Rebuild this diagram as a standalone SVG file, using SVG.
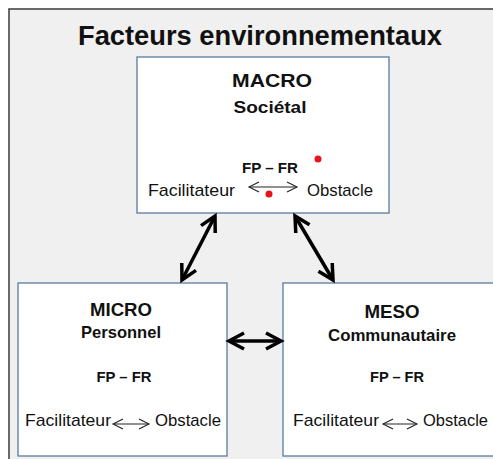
<svg xmlns="http://www.w3.org/2000/svg" width="493" height="459" viewBox="0 0 493 459">
<style>
.frame{fill:#f0f0f0;stroke:#3a3a3a;stroke-width:1.5}
.box{fill:#ffffff;stroke:#5b7aa0;stroke-width:1.3}
text{font-family:"Liberation Sans",Arial,sans-serif;fill:#111}
.t{font-weight:bold;font-size:27px}
.h{font-weight:bold;font-size:19px}
.s{font-weight:bold;font-size:17px}
.f{font-weight:bold;font-size:15px}
.n{font-size:17px}
.big{stroke:#000;stroke-width:3.5;fill:none}
.thin{stroke:#222;stroke-width:1.1;fill:none}
.dot{fill:#e8141c}
</style>
<defs>
<marker id="hb" viewBox="-20 -12 24 24" markerWidth="24" markerHeight="24" refX="0" refY="0" markerUnits="userSpaceOnUse" orient="auto-start-reverse">
<path d="M-15,-8 L0,0 L-15,8" fill="none" stroke="#000" stroke-width="3.5" stroke-linejoin="miter"/>
</marker>
<marker id="ht" viewBox="-14 -8 16 16" markerWidth="16" markerHeight="16" refX="0" refY="0" markerUnits="userSpaceOnUse" orient="auto-start-reverse">
<path d="M-10,-5 L0,0 L-10,5" fill="none" stroke="#222" stroke-width="1.1"/>
</marker>
</defs>
<rect class="frame" x="9" y="9" width="500" height="470"/>
<text class="t" x="260" y="45" text-anchor="middle" textLength="364" lengthAdjust="spacingAndGlyphs">Facteurs environnementaux</text>
<g id="macro">
<rect class="box" x="137" y="57" width="252" height="156"/>
<text class="h" x="272" y="87" text-anchor="middle" textLength="80" lengthAdjust="spacingAndGlyphs">MACRO</text>
<text class="s" x="270" y="113" text-anchor="middle" textLength="73" lengthAdjust="spacingAndGlyphs">Sociétal</text>
<text class="f" x="270" y="173" text-anchor="middle" textLength="56" lengthAdjust="spacingAndGlyphs">FP – FR</text>
<text class="n" x="148" y="196" textLength="87" lengthAdjust="spacingAndGlyphs">Facilitateur</text>
<line class="thin" x1="249" y1="187" x2="297" y2="187" marker-start="url(#ht)" marker-end="url(#ht)"/>
<text class="n" x="307" y="196" textLength="66" lengthAdjust="spacingAndGlyphs">Obstacle</text>
<circle class="dot" cx="318" cy="159" r="3.5"/>
<circle class="dot" cx="269" cy="194" r="3.5"/>
</g>
<g id="micro">
<rect class="box" x="18" y="283" width="209" height="173"/>
<text class="h" x="121" y="316" text-anchor="middle" textLength="62" lengthAdjust="spacingAndGlyphs">MICRO</text>
<text class="s" x="121" y="338" text-anchor="middle" textLength="80" lengthAdjust="spacingAndGlyphs">Personnel</text>
<text class="f" x="124" y="382" text-anchor="middle" textLength="55" lengthAdjust="spacingAndGlyphs">FP – FR</text>
<text class="n" x="25" y="426" textLength="86" lengthAdjust="spacingAndGlyphs">Facilitateur</text>
<line class="thin" x1="113" y1="424" x2="149" y2="424" marker-start="url(#ht)" marker-end="url(#ht)"/>
<text class="n" x="155" y="426" textLength="66" lengthAdjust="spacingAndGlyphs">Obstacle</text>
</g>
<g id="meso">
<rect class="box" x="283" y="283" width="230" height="173"/>
<text class="h" x="392" y="318" text-anchor="middle" textLength="55" lengthAdjust="spacingAndGlyphs">MESO</text>
<text class="s" x="392" y="341" text-anchor="middle" textLength="128" lengthAdjust="spacingAndGlyphs">Communautaire</text>
<text class="f" x="397" y="382" text-anchor="middle" textLength="54" lengthAdjust="spacingAndGlyphs">FP – FR</text>
<text class="n" x="293" y="426" textLength="86" lengthAdjust="spacingAndGlyphs">Facilitateur</text>
<line class="thin" x1="383" y1="424" x2="417" y2="424" marker-start="url(#ht)" marker-end="url(#ht)"/>
<text class="n" x="423" y="426" textLength="65" lengthAdjust="spacingAndGlyphs">Obstacle</text>
</g>
<g id="connectors">
<line class="big" x1="215" y1="216" x2="182" y2="280" marker-start="url(#hb)" marker-end="url(#hb)"/>
<line class="big" x1="295" y1="216" x2="333" y2="280" marker-start="url(#hb)" marker-end="url(#hb)"/>
<line class="big" x1="229" y1="341" x2="281" y2="341" marker-start="url(#hb)" marker-end="url(#hb)"/>
</g>
</svg>
